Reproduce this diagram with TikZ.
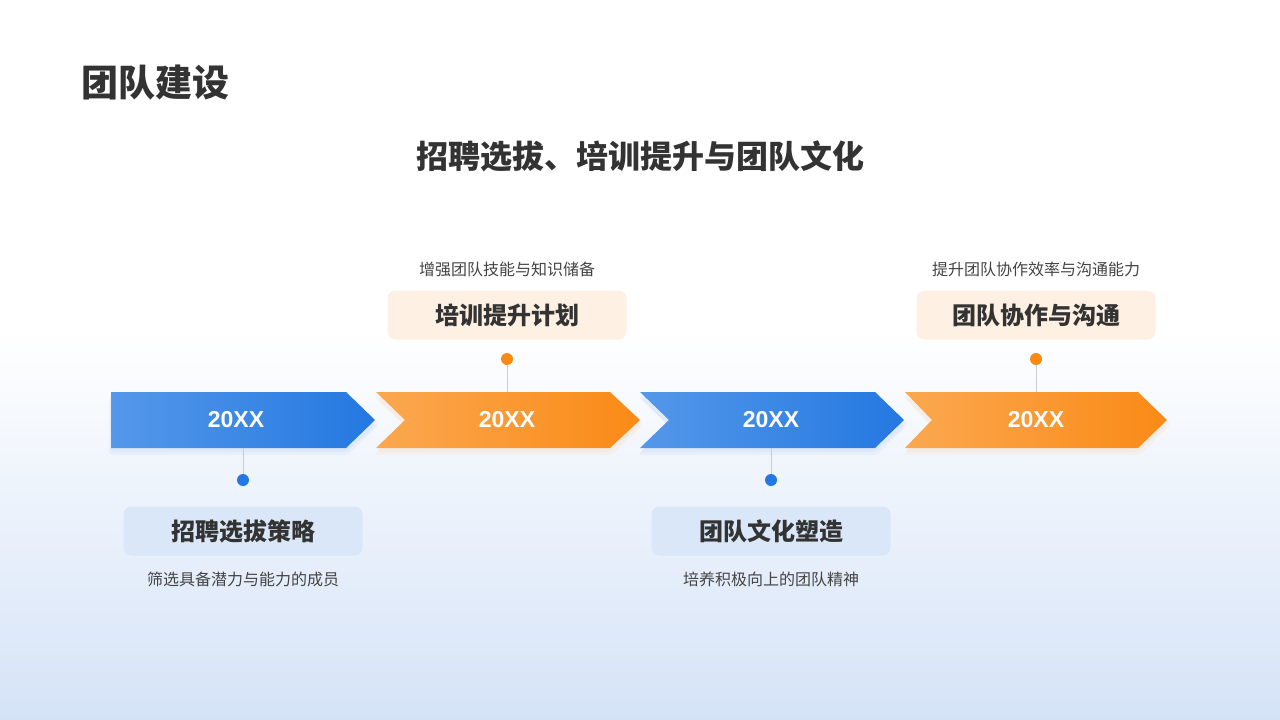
\documentclass[tikz,border=0pt]{standalone}
\usepackage{fontspec}
\setmainfont{Noto Sans CJK SC}
\newfontfamily\yearfont{Liberation Sans}
\usetikzlibrary{positioning}
\definecolor{darktext}{HTML}{333333}
\definecolor{desctext}{HTML}{444444}
\definecolor{bgblue}{HTML}{D5E3F7}
\definecolor{bluedark}{HTML}{2478E0}
\definecolor{bluelight}{HTML}{5498EA}
\definecolor{orangedark}{HTML}{FA8A16}
\definecolor{orangelight}{HTML}{FBA850}
\definecolor{boxblue}{HTML}{DAE7F8}
\definecolor{boxorange}{HTML}{FEF1E3}
\definecolor{stemgray}{HTML}{C8CCD4}

\begin{document}
\begin{tikzpicture}[x=1pt,y=-1pt,
    year/.style = {text=white, font=\yearfont\fontsize{23}{27}\selectfont\bfseries},
    card/.style = {rounded corners=8pt, minimum width=239pt, minimum height=49pt, text=darktext,
                   font=\fontsize{24}{28}\selectfont\bfseries},
    desc/.style = {text=desctext, font=\fontsize{16}{19}\selectfont},
    dot/.style = {circle, inner sep=0pt, minimum size=12pt},
    stem/.style = {draw=stemgray, line width=0.8pt},
    glow/.style = {opacity=0.05, rounded corners=3pt}]
        \useasboundingbox (0,0) rectangle (1280,720);
        % background
        \fill[white](0,0)rectangle(1280,720);
        \shade[top color = white, bottom color = bgblue](0,330)rectangle(1280,720);
        % headings
        \node[anchor = west, text = darktext, font = \fontsize{37}{42}\selectfont\bfseries](title)at(78,83){团队建设};
        \node[text = darktext, font = \fontsize{32}{37}\selectfont\bfseries](subtitle)at(640,156){招聘选拔、培训提升与团队文化};
        % shadows
        \fill[bluedark, glow](109,396)--(348,396)--(379,424)--(348,455)--(109,455)--cycle;
        \fill[bluedark, glow](111,398)--(346,398)--(376,426)--(346,452)--(111,452)--cycle;
        \fill[orangedark, glow](374,396)--(612,396)--(644,424)--(612,455)--(374,455)--(403,424)--cycle;
        \fill[orangedark, glow](376,398)--(610,398)--(641,426)--(610,452)--(376,452)--(405,426)--cycle;
        \fill[bluedark, glow](638,396)--(877,396)--(908,424)--(877,455)--(638,455)--(667,424)--cycle;
        \fill[bluedark, glow](640,398)--(875,398)--(905,426)--(875,452)--(640,452)--(669,426)--cycle;
        \fill[orangedark, glow](903,396)--(1140,396)--(1171,424)--(1140,455)--(903,455)--(930,424)--cycle;
        \fill[orangedark, glow](905,398)--(1138,398)--(1168,426)--(1138,452)--(905,452)--(932,426)--cycle;
        % chevrons
        \path[left color = bluelight, right color = bluedark](111,392)--(346,392)--(375,420)--(346,448)--(111,448)--cycle;
        \path[left color = orangelight, right color = orangedark](376,392)--(610,392)--(640,420)--(610,448)--(376,448)--(405,420)--cycle;
        \path[left color = bluelight, right color = bluedark](640,392)--(875,392)--(904,420)--(875,448)--(640,448)--(669,420)--cycle;
        \path[left color = orangelight, right color = orangedark](905,392)--(1138,392)--(1167,420)--(1138,448)--(905,448)--(932,420)--cycle;
        % years
        \node[year](y1)at(236,420){20XX};
        \node[year](y2)at(507,420){20XX};
        \node[year](y3)at(771,420){20XX};
        \node[year](y4)at(1036,420){20XX};
        % edge points
        \coordinate(e1)at(243,448);
        \coordinate(e2)at(507,392);
        \coordinate(e3)at(771,448);
        \coordinate(e4)at(1036,392);
        % dots
        \node[dot, fill = bluedark](d1)at(243,480){};
        \node[dot, fill = orangedark](d2)at(507,359){};
        \node[dot, fill = bluedark](d3)at(771,480){};
        \node[dot, fill = orangedark](d4)at(1036,359){};
        \path[stem](e1)to(d1);
        \path[stem](e2)to(d2);
        \path[stem](e3)to(d3);
        \path[stem](e4)to(d4);
        % cards
        \node[card, fill = boxblue](c1)at(243,531){招聘选拔策略};
        \node[card, fill = boxorange](c2)at(507,315){培训提升计划};
        \node[card, fill = boxblue](c3)at(771,531){团队文化塑造};
        \node[card, fill = boxorange](c4)at(1036,315){团队协作与沟通};
        % descriptions
        \node[desc](t1)at(243,579){筛选具备潜力与能力的成员};
        \node[desc](t2)at(507,269){增强团队技能与知识储备};
        \node[desc](t3)at(771,579){培养积极向上的团队精神};
        \node[desc](t4)at(1036,269){提升团队协作效率与沟通能力};
    \end{tikzpicture}
\end{document}
